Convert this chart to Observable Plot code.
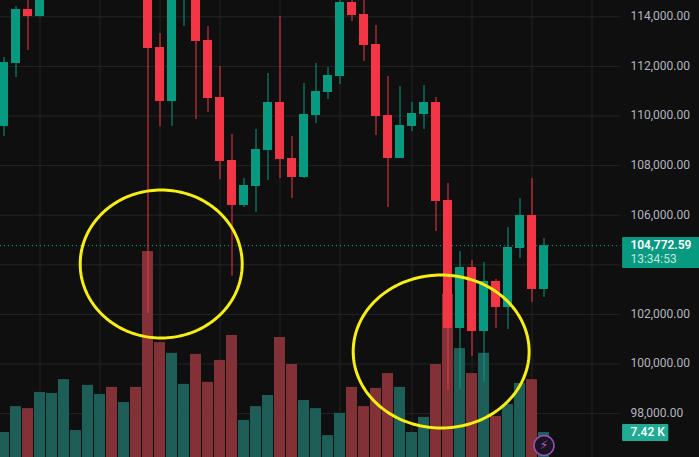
<!DOCTYPE html>
<html>
<head>
<meta charset="utf-8">
<style>
html,body{margin:0;padding:0;background:#0f0f0f;overflow:hidden}
svg{display:block}
</style>
<script src="https://cdn.jsdelivr.net/npm/d3@7"></script>
<script src="https://cdn.jsdelivr.net/npm/@observablehq/plot@0.6"></script>
</head>
<body>
<div id="chart"></div>
<script>
const opens  = [109577,112117,114294,114012,null,null,null,null,null,null,null,null,115200,112762,110585,114800,115300,113044,110746,108206,106391,107157,108609,110544,108286,107520,110020,110948,111593,114576,114093,112883,110020,108286,109577,110061,110544,106593,101432,103892,101311,103327,102279,104658,105988,103005];
const closes = [112157,114294,114012,114859,null,null,null,null,null,null,null,null,112722,110585,115200,115400,113004,110706,108165,106391,107198,108649,110544,108246,107520,110061,110988,111633,114576,114052,112843,109980,108286,109617,110101,110544,106553,101432,103892,101311,103327,102279,104698,105988,103005,104772.59];
const highs  = [112359,114415,114778,114980,null,null,null,null,null,null,null,null,115400,113326,115300,115500,115400,113609,111996,109254,107480,109456,111714,114012,109173,111310,112117,111956,114800,114800,114900,113649,111593,111189,110544,111230,110746,107278,104537,104174,104093,103408,105504,106674,107480,105061];
const lows   = [109173,111552,112641,113984,null,null,null,null,null,null,null,null,102037,109577,109577,113609,109859,110141,107440,103541,106311,106109,107399,107480,106674,107480,109698,110665,111270,113810,112197,109214,106311,108286,109375,109456,105343,98932,98973,100303,99255,101432,101392,104254,102480,102682];
const volumes = [7.42,15.1,14.5,19.3,19.0,23.1,8.0,21.4,18.7,20.8,16.3,20.8,61.1,34.1,30.9,21.7,30.6,22.3,28.8,36.2,11.0,15.1,18.4,35.6,27.6,16.9,14.5,6.5,13.1,20.8,15.1,20.5,24.9,20.8,7.42,11.9,27.6,48.4,32.3,24.9,30.9,12.2,15.7,22.0,23.1,7.42];
const volumeSides = "ggrggggggrgrrrggrrrrgggrrggggrrrrgggrrgrgrggrg".split("");
const gridTicks = [98000,100000,102000,104000,106000,108000,110000,112000,114000];
const labelTicks = [98000,100000,102000,106000,108000,110000,112000,114000];
const gridSlots = [3,8,13,18,23,28,34,39,44,49];
const lastPrice = 104772.59;
const lastVolume = 7.42;
const priceLabel = "104,772.59";
const countdown = "13:34:53";
const volumeLabel = "7.42 K";

const BG = "#0f0f0f", GRID = "#242424", UP = "#089981", DOWN = "#f23645";
const UPV = "#1d5f58", DOWNV = "#823236", YELLOW = "#f7ef12", FONT = "Roboto, sans-serif";

const candles = opens.map((o, i) => ({i, o, c: closes[i], h: highs[i], l: lows[i]})).filter(d => d.o != null);
const bars = volumes.map((v, i) => ({i, v, up: volumeSides[i] === "g"}));

const PRICE_BOTTOM = 96231, PRICE_TOP = 114657, PRICE_PER_VOL = 135.9;
const volPrice = v => PRICE_BOTTOM + v * PRICE_PER_VOL;
const GRID_END = 51.4, TAG_LEFT = 51.55, TAG_RIGHT = 58, VTAG_RIGHT = 55.4, TEXT_LEFT = 52.2;

const ellipse = (cx, rx, cy, ry) => d3.range(0, 362, 2).map(a => ({
  x: cx + rx * Math.cos(a * Math.PI / 180),
  y: cy + ry * Math.sin(a * Math.PI / 180)
}));
const circleA = ellipse(13.1, 6.75, 104033, 2984);
const circleB = ellipse(36.43, 7.33, 100505, 3085);

const chart = Plot.plot({
  width: 699, height: 457,
  marginTop: 0, marginRight: 0, marginBottom: 0, marginLeft: 0,
  style: {background: BG, fontFamily: FONT, fontSize: "12px"},
  x: {domain: [-0.29167, 57.9583], range: [0, 699], axis: null},
  y: {domain: [PRICE_BOTTOM, PRICE_TOP], axis: null},
  marks: [
    Plot.ruleX(gridSlots, {x: d => d, stroke: GRID}),
    Plot.ruleY(gridTicks, {y: d => d, x1: -0.3, x2: GRID_END, stroke: GRID}),
    Plot.ruleY([lastPrice], {x1: -0.3, x2: GRID_END, stroke: "#12b596", strokeDasharray: "1,3"}),
    Plot.rect(bars, {x1: d => d.i - 0.4583, x2: d => d.i + 0.4583, y1: PRICE_BOTTOM, y2: d => volPrice(d.v), fill: d => d.up ? UPV : DOWNV}),
    Plot.ruleX(candles, {x: "i", y1: "l", y2: "h", stroke: d => d.c >= d.o ? UP : DOWN, strokeWidth: 1}),
    Plot.rect(candles, {x1: d => d.i - 0.375, x2: d => d.i + 0.375, y1: "o", y2: "c", fill: d => d.c >= d.o ? UP : DOWN}),
    Plot.line(circleA, {x: "x", y: "y", stroke: YELLOW, strokeWidth: 3}),
    Plot.line(circleB, {x: "x", y: "y", stroke: YELLOW, strokeWidth: 3}),
    Plot.axisY({ticks: labelTicks, tickFormat: d => d3.format(",.2f")(d), anchor: "right", tickSize: 0, tickPadding: 0, dx: -69, dy: -0.5, fill: "#b2b5be", fontSize: 12}),
    Plot.rect([lastPrice], {x1: TAG_LEFT, x2: TAG_RIGHT, y1: 103851, y2: 105101, fill: UP, r: 1}),
    Plot.text([priceLabel], {x: TEXT_LEFT, y: lastPrice, text: d => d, textAnchor: "start", fill: "#ffffff", fontSize: 12, fontWeight: 600}),
    Plot.text([countdown], {x: TEXT_LEFT, y: lastPrice, dy: 13.5, text: d => d, textAnchor: "start", fill: "#bfe6de", fontSize: 12}),
    Plot.rect([lastVolume], {x1: TAG_LEFT, x2: VTAG_RIGHT, y1: 96876, y2: 97561, fill: "#22ab94", r: 1}),
    Plot.text([volumeLabel], {x: TEXT_LEFT, y: volPrice(lastVolume), text: d => d, textAnchor: "start", fill: "#ffffff", fontSize: 12, fontWeight: 500}),
    Plot.dot([45], {x: d => d, y: 96714, r: 10, fill: "#1a1420", stroke: "#9c4fc0", strokeWidth: 1.5}),
    Plot.text(["\u26A1"], {x: 45, y: 96714, text: d => d, fill: "#b45fd8", fontSize: 12, fontFamily: "DejaVu Sans"})
  ]
});
document.getElementById("chart").append(chart);
</script>
</body>
</html>
